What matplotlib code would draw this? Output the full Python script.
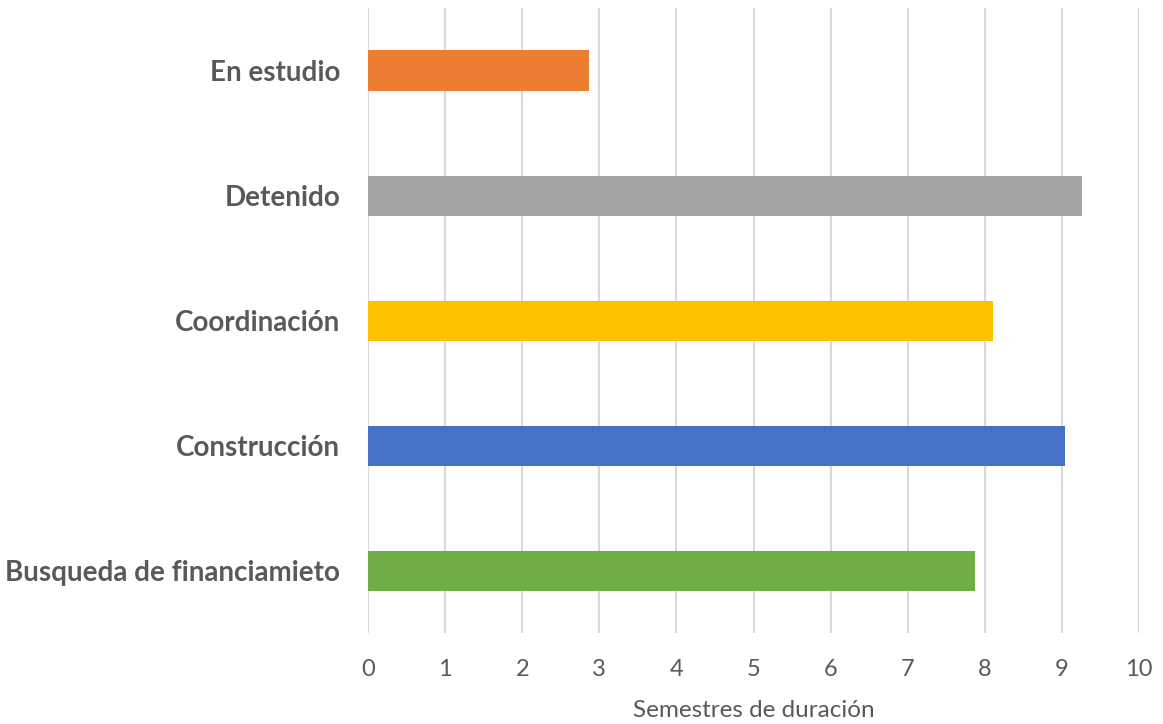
import matplotlib
matplotlib.use("Agg")
import matplotlib.pyplot as plt

categories = ["Busqueda de financiamieto", "Construcción", "Coordinación", "Detenido", "En estudio"]
values = [7.87, 9.04, 8.10, 9.26, 2.87]
colors = ["#70AD47", "#4472C4", "#FFC000", "#A5A5A5", "#ED7D31"]
xticks = [0, 1, 2, 3, 4, 5, 6, 7, 8, 9, 10]
xlabel = "Semestres de duración"

plt.rcParams['font.family'] = ['Lato', 'DejaVu Sans']

fig = plt.figure(figsize=(11.63, 7.24), dpi=100)
ax = fig.add_axes([368 / 1163, 1 - 633 / 724, (1139 - 368) / 1163, (633 - 8) / 724])

ypos = list(range(len(categories)))
ax.barh(ypos, values, height=0.32, color=colors, zorder=3)

ax.set_xlim(0, 10)
ax.set_ylim(-0.5, len(categories) - 0.5)
ax.set_xticks(xticks)
ax.set_xticklabels([str(t) for t in xticks], fontsize=17, color="#595959")
ax.set_yticks(ypos)
ax.set_yticklabels(categories, fontsize=20, fontweight="bold", color="#595959")
ax.tick_params(axis="both", length=0)
ax.tick_params(axis="x", pad=19)
ax.tick_params(axis="y", pad=20)

ax.grid(axis="x", color="#D9D9D9", linewidth=1.5, zorder=0)
ax.grid(axis="y", visible=False)
for s in ax.spines.values():
    s.set_visible(False)

ax.set_xlabel(xlabel, fontsize=17.5, color="#595959", labelpad=14)

fig.savefig("out.png", dpi=100)
